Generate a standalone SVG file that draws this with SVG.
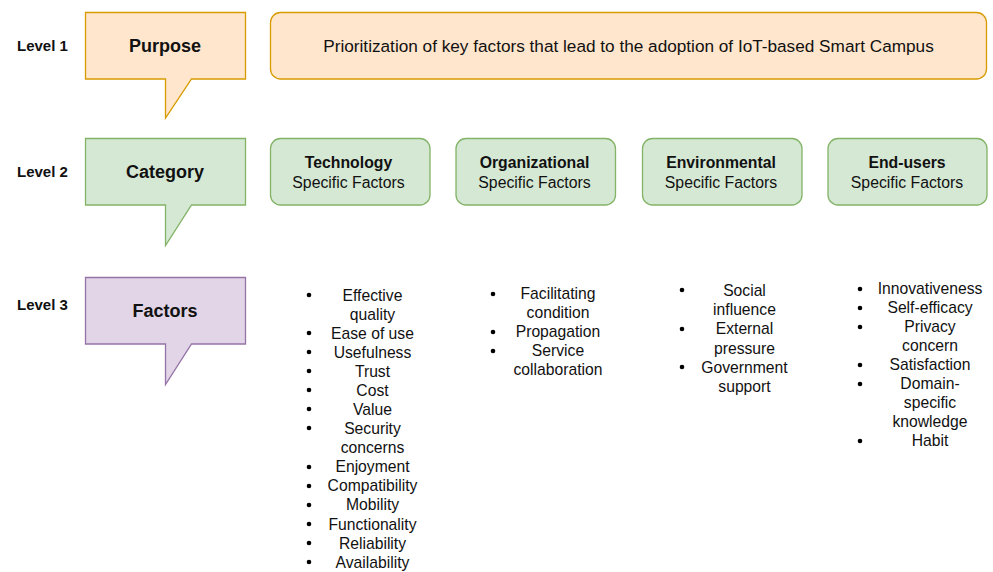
<svg xmlns="http://www.w3.org/2000/svg" width="993" height="572" viewBox="0 0 993 572">
  <style>
    text { font-family: "Liberation Sans", Arial, sans-serif; fill: #111; }
    .lvl { font-size: 15px; font-weight: bold; }
    .head { font-size: 18px; font-weight: bold; text-anchor: middle; }
    .goal { font-size: 17.2px; text-anchor: middle; }
    .cat { font-size: 15.8px; text-anchor: middle; }
    .body { font-size: 15.7px; text-anchor: middle; }
    .bold { font-weight: bold; }
    .orange { fill: #ffe6cc; stroke: #d79b00; stroke-width: 1.3; }
    .green { fill: #d5e8d4; stroke: #82b366; stroke-width: 1.3; }
    .purple { fill: #e1d5e7; stroke: #9673a6; stroke-width: 1.3; }
    .dot { fill: #000; }
  </style>

  <!-- Level labels -->
  <g id="level-labels">
    <text class="lvl" x="17" y="50.5">Level 1</text>
    <text class="lvl" x="17" y="177">Level 2</text>
    <text class="lvl" x="17" y="310">Level 3</text>
  </g>

  <!-- Callout headers -->
  <g id="purpose">
    <path class="orange" d="M85.5,12.5 H245.5 V79 H191.5 L165.5,118 V79 H85.5 Z"/>
    <text class="head" x="165" y="51.5">Purpose</text>
  </g>
  <g id="category">
    <path class="green" d="M85.5,138.5 H245.5 V205 H191.5 L165.5,245.5 V205 H85.5 Z"/>
    <text class="head" x="165" y="178">Category</text>
  </g>
  <g id="factors">
    <path class="purple" d="M85.5,277.5 H245.5 V344 H191.5 L165.5,384.5 V344 H85.5 Z"/>
    <text class="head" x="165" y="317">Factors</text>
  </g>

  <!-- Level 1 statement -->
  <g id="goal">
    <rect class="orange" x="270.5" y="12.5" width="716" height="66.5" rx="10"/>
    <text class="goal" x="628.5" y="51.8">Prioritization of key factors that lead to the adoption of IoT-based Smart Campus</text>
  </g>

  <!-- Level 2 categories -->
  <g id="cat-technology">
    <rect class="green" x="270.5" y="138.5" width="159.5" height="66.5" rx="10"/>
    <text class="cat bold" x="348.5" y="167.8">Technology</text>
    <text class="cat" x="348.5" y="187.8">Specific Factors</text>
  </g>
  <g id="cat-organizational">
    <rect class="green" x="456" y="138.5" width="159.5" height="66.5" rx="10"/>
    <text class="cat bold" x="534.5" y="167.8">Organizational</text>
    <text class="cat" x="534.5" y="187.8">Specific Factors</text>
  </g>
  <g id="cat-environmental">
    <rect class="green" x="642.5" y="138.5" width="159.5" height="66.5" rx="10"/>
    <text class="cat bold" x="721" y="167.8">Environmental</text>
    <text class="cat" x="721" y="187.8">Specific Factors</text>
  </g>
  <g id="cat-endusers">
    <rect class="green" x="828" y="138.5" width="159" height="66.5" rx="10"/>
    <text class="cat bold" x="907" y="167.8">End-users</text>
    <text class="cat" x="907" y="187.8">Specific Factors</text>
  </g>

  <!-- Level 3 factor lists -->
  <g id="list-technology">
    <g class="dot">
      <circle cx="309" cy="295" r="2.3"/>
      <circle cx="309" cy="333" r="2.3"/>
      <circle cx="309" cy="352" r="2.3"/>
      <circle cx="309" cy="371" r="2.3"/>
      <circle cx="309" cy="390" r="2.3"/>
      <circle cx="309" cy="409" r="2.3"/>
      <circle cx="309" cy="428" r="2.3"/>
      <circle cx="309" cy="467" r="2.3"/>
      <circle cx="309" cy="486" r="2.3"/>
      <circle cx="309" cy="505" r="2.3"/>
      <circle cx="309" cy="524" r="2.3"/>
      <circle cx="309" cy="543" r="2.3"/>
      <circle cx="309" cy="562" r="2.3"/>
    </g>
    <text class="body" x="372.5" y="300.5">Effective</text>
    <text class="body" x="372.5" y="319.5">quality</text>
    <text class="body" x="372.5" y="338.5">Ease of use</text>
    <text class="body" x="372.5" y="357.5">Usefulness</text>
    <text class="body" x="372.5" y="376.5">Trust</text>
    <text class="body" x="372.5" y="396">Cost</text>
    <text class="body" x="372.5" y="415">Value</text>
    <text class="body" x="372.5" y="434">Security</text>
    <text class="body" x="372.5" y="453">concerns</text>
    <text class="body" x="372.5" y="472">Enjoyment</text>
    <text class="body" x="372.5" y="491">Compatibility</text>
    <text class="body" x="372.5" y="510">Mobility</text>
    <text class="body" x="372.5" y="529.5">Functionality</text>
    <text class="body" x="372.5" y="548.5">Reliability</text>
    <text class="body" x="372.5" y="567.5">Availability</text>
  </g>

  <g id="list-organizational">
    <g class="dot">
      <circle cx="493" cy="294" r="2.3"/>
      <circle cx="493" cy="332" r="2.3"/>
      <circle cx="493" cy="351" r="2.3"/>
    </g>
    <text class="body" x="558" y="299">Facilitating</text>
    <text class="body" x="558" y="318">condition</text>
    <text class="body" x="558" y="337">Propagation</text>
    <text class="body" x="558" y="356">Service</text>
    <text class="body" x="558" y="375">collaboration</text>
  </g>

  <g id="list-environmental">
    <g class="dot">
      <circle cx="682" cy="290" r="2.3"/>
      <circle cx="682" cy="329" r="2.3"/>
      <circle cx="682" cy="367" r="2.3"/>
    </g>
    <text class="body" x="744.5" y="295.5">Social</text>
    <text class="body" x="744.5" y="314.5">influence</text>
    <text class="body" x="744.5" y="333.5">External</text>
    <text class="body" x="744.5" y="353.5">pressure</text>
    <text class="body" x="744.5" y="372.5">Government</text>
    <text class="body" x="744.5" y="391.5">support</text>
  </g>

  <g id="list-endusers">
    <g class="dot">
      <circle cx="860" cy="289" r="2.3"/>
      <circle cx="860" cy="308" r="2.3"/>
      <circle cx="860" cy="327" r="2.3"/>
      <circle cx="860" cy="365" r="2.3"/>
      <circle cx="860" cy="384" r="2.3"/>
      <circle cx="860" cy="441" r="2.3"/>
    </g>
    <text class="body" x="930" y="294">Innovativeness</text>
    <text class="body" x="930" y="313">Self-efficacy</text>
    <text class="body" x="930" y="332">Privacy</text>
    <text class="body" x="930" y="351">concern</text>
    <text class="body" x="930" y="370">Satisfaction</text>
    <text class="body" x="930" y="389">Domain-</text>
    <text class="body" x="930" y="408">specific</text>
    <text class="body" x="930" y="427">knowledge</text>
    <text class="body" x="930" y="446">Habit</text>
  </g>

  <!-- no connectors are drawn between the nodes -->
  <g id="connectors"/>
</svg>
